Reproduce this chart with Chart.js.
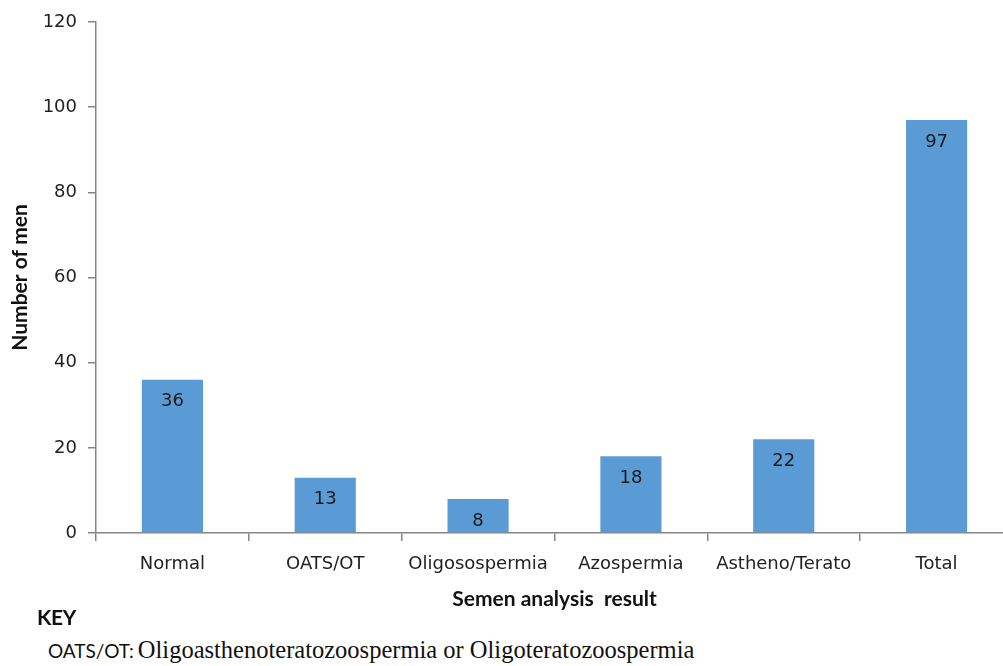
<!DOCTYPE html>
<html>
<head>
<meta charset="utf-8">
<script src="https://cdn.jsdelivr.net/npm/chart.js@4/dist/chart.umd.min.js"></script>
<style>
    html, body { margin: 0; padding: 0; background: #fff; width: 1003px; height: 666px; overflow: hidden; }
    #wrap { position: relative; width: 1003px; height: 666px; overflow: hidden; }
    #chart { position: absolute; left: 0; top: 0; }
    #key { position: absolute; left: 37px; top: 604px; font-family: Lato, sans-serif; font-weight: bold; font-size: 21px; color: #111; letter-spacing: -0.3px; }
    #keyline { position: absolute; left: 48px; top: 636px; color: #111; white-space: nowrap; }
    #keyline .abbr { font-family: Lato, sans-serif; font-size: 19px; }
    #keyline .full { font-family: "Liberation Serif", serif; font-size: 24.5px; }
</style>
</head>
<body>
<div id="wrap">
    <canvas id="chart" width="1013" height="616"></canvas>
    <div id="key">KEY</div>
    <div id="keyline"><span class="abbr">OATS/OT:</span> <span class="full">Oligoasthenoteratozoospermia or Oligoteratozoospermia</span></div>
</div>
<script>
const categories = ['Normal', 'OATS/OT', 'Oligosospermia', 'Azospermia', 'Astheno/Terato', 'Total'];
const menCounts = [36, 13, 8, 18, 22, 97];
const yTicks = [0, 20, 40, 60, 80, 100, 120];

const axisGrey = '#868686';
const tickFont = { family: 'DejaVu Sans', size: 18 };
const titleFont = { family: 'Lato', size: 21, weight: 'bold' };

// draws the value inside each bar, just under its top
const barValueLabels = {
    id: 'barValueLabels',
    afterDatasetsDraw(chart) {
        const ctx = chart.ctx;
        const meta = chart.getDatasetMeta(0);
        ctx.save();
        ctx.font = '18px "DejaVu Sans"';
        ctx.fillStyle = '#1a1a1a';
        ctx.textAlign = 'center';
        ctx.textBaseline = 'middle';
        meta.data.forEach((bar, i) => {
            ctx.fillText(String(chart.data.datasets[0].data[i]), bar.x, bar.y + 22);
        });
        ctx.restore();
    }
};

new Chart(document.getElementById('chart'), {
    type: 'bar',
    data: {
        labels: categories,
        datasets: [{
            label: 'Number of men',
            data: menCounts,
            backgroundColor: '#5B9BD5',
            borderWidth: 0,
            barPercentage: 0.8,
            categoryPercentage: 0.5,
        }]
    },
    options: {
        responsive: false,
        animation: false,
        layout: { padding: { top: 22, left: 0, right: 0, bottom: 0 } },
        plugins: {
            legend: { display: false },
            tooltip: { enabled: false },
        },
        scales: {
            y: {
                min: 0,
                max: 120,
                afterBuildTicks(scale) { scale.ticks = yTicks.map(v => ({ value: v })); },
                afterFit(scale) { scale.width = 96; },
                grid: { drawOnChartArea: false, drawTicks: true, tickLength: 8, color: axisGrey, lineWidth: 1.5 },
                border: { color: axisGrey, width: 1.5 },
                ticks: { font: tickFont, color: '#222', padding: 11 },
                title: {
                    display: true,
                    text: 'Number of men',
                    font: titleFont,
                    color: '#111',
                    padding: { top: 8, bottom: 0 },
                },
            },
            x: {
                afterFit(scale) { scale.height = 83; },
                grid: { offset: true, drawOnChartArea: false, drawTicks: true, tickLength: 8, color: axisGrey, lineWidth: 1.5 },
                border: { color: axisGrey, width: 1.5 },
                ticks: { font: tickFont, color: '#222', padding: 13, maxRotation: 0, autoSkip: false },
                title: {
                    display: true,
                    text: 'Semen analysis  result',
                    font: titleFont,
                    color: '#111',
                    padding: { top: 4, bottom: 4 },
                },
            },
        },
    },
    plugins: [barValueLabels],
});
</script>
</body>
</html>
